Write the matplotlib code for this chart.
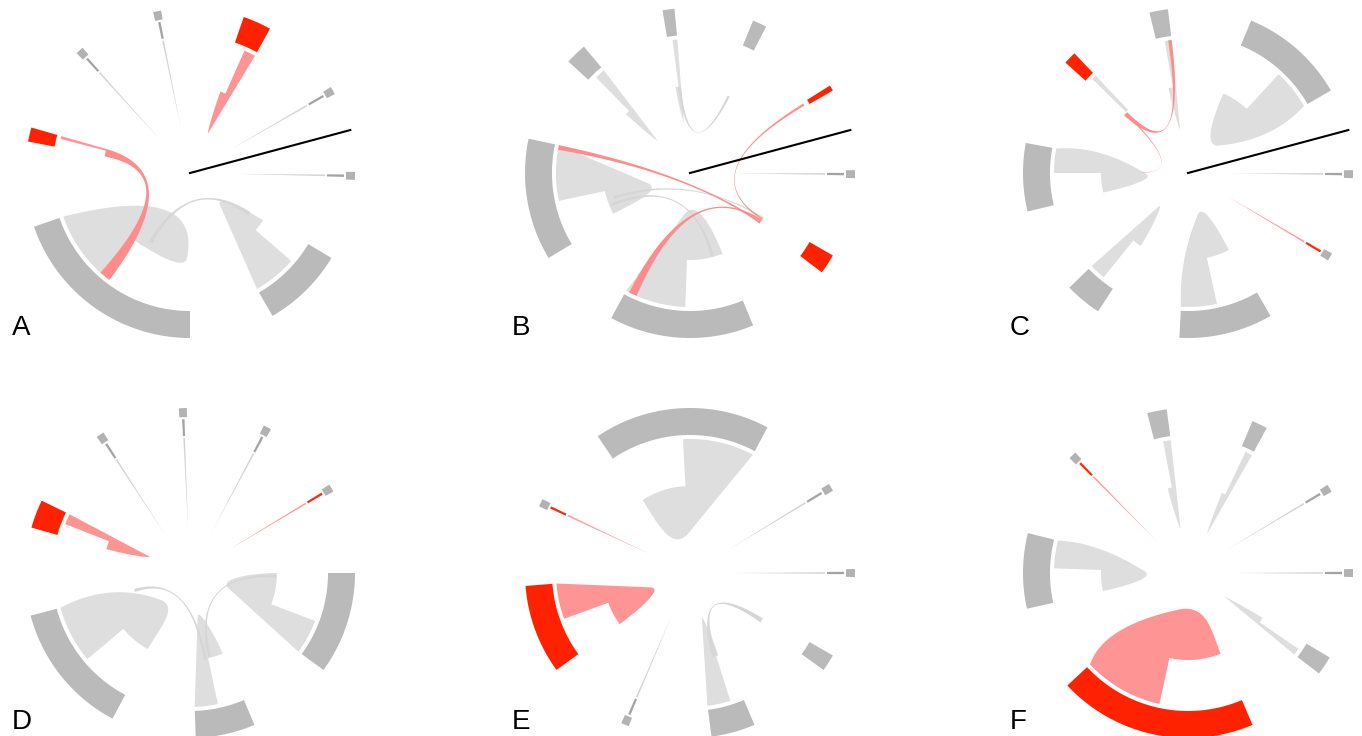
import numpy as np
import matplotlib
matplotlib.use("Agg")
import matplotlib.pyplot as plt
from matplotlib.patches import Polygon

BAND_GREY, FILL_GREY = "#bababa", "#dedede"
BAND_RED, FILL_PINK = "#ff2200", "#ff9494"
SPOKE_SQ, SPOKE_DARK, SPOKE_LIGHT = "#b2b2b2", "#a4a4a4", "#d4d4d4"
SPOKE_RED, SPOKE_PINK = "#ff2a12", "#ff9a9a"
CHORD_RED, CHORD_GREY = "#ff8c8c", "#d6d6d6"

# nodes: (band start, band end, strip end, taper end, tip angle, tip radius, back-edge bend, kind)
# angles in degrees, counter-clockwise from 3 o'clock
A_NODES = [
    (199, 270, 228, 236, 268, 85, (-36, 15), "g"),
    (-60, -31, -41, -33, -47, 44, None, "g"),
    (61, 71, 66, 69.5, 65.5, 44, None, "r"),
    (164, 169, 165.2, None, None, None, None, "r"),
]
B_NODES = [
    (168, 211, 192, 208, 193, 44, None, "g"),
    (241.5, 292.5, 268, 292, 262, 42, None, "g"),
    (130, 137.5, 134.5, 137.5, 135, 46, None, "g"),
    (95.4, 99.6, 97.5, 99.6, 97, 50, None, "g"),
    (62.5, 67.5, None, None, None, None, None, "g"),
    (30, 32, None, None, None, None, None, "r"),
    (-37, -30, None, None, None, None, None, "r"),
]
C_NODES = [
    (30, 67.5, 47.5, 66, 42, 41, (21, 90), "g"),
    (169.5, 193.5, 180, 193, 181, 42, (162.5, 93), "g"),
    (97, 103.5, 100, 103, 100.5, 44, None, "g"),
    (133.5, 138, 135.5, None, None, None, None, "rg"),
    (224, 237, 231, 237, 229, 44, None, "g"),
    (267, 300, 282.5, 298, 283, 43, (264, 88), "g"),
]
D_NODES = [
    (195, 242, 220, 241, 222, 40, (186, 80), "g"),
    (-36, 0, -21, 0, -22, 42, None, "g"),
    (272, 293, 282, 292, 280, 44, None, "g"),
    (154, 164, 158.6, 164, 158, 44, None, "r"),
]
E_NODES = [
    (62, 124, 93, 123, 92, 40, None, "g"),
    (184.5, 216, 200, 216, 200, 42, None, "r"),
    (277.5, 293, 287.5, 289, 284.6, 47, None, "g"),
    (-36, -30, None, None, None, None, None, "g"),
]
F_NODES = [
    (223, 293, 257.7, 292, 255, 38, (212, 100), "r"),
    (166, 192.5, 178, 192, 178, 43, (161, 95), "g"),
    (97.4, 104.3, 100.7, 103.5, 99.5, 45, None, "g"),
    (61.5, 67, 64.6, 67, 64, 44, None, "g"),
    (-37.5, -30.8, -34.5, -31, -33, 44, None, "g"),
]

# small nodes drawn as a square on a thin spoke: (angle, kind)
A_SPOKES = [(132, "g"), (101.5, "g"), (30, "g"), (-1, "g")]
B_SPOKES = [(-0.4, "g")]
C_SPOKES = [(-0.4, "g"), (-30.6, "r")]
D_SPOKES = [(123, "g"), (92.5, "g"), (62, "g"), (31, "r")]
E_SPOKES = [(154.8, "r"), (31.3, "g"), (0, "g"), (246.8, "g")]
F_SPOKES = [(134.5, "r"), (30.9, "g"), (0, "g")]

# chords: (from a0, a1, radius, to b0, b1, radius, kind)
A_CHORDS = [(164, 169, 87, 228, 233, 134, "r"), (239, 242, 80, -36, -33, 72, "g")]
B_CHORDS = [
    (168, 170, 134, -36, -34.5, 86, "r"),
    (243, 246.5, 134, -34.5, -33, 86, "r"),
    (30.5, 31.5, 133, -33, -32, 86, "r"),
    (197, 199, 80, -32, -31, 86, "g"),
    (201, 203, 85, 284, 286, 86, "g"),
    (96, 98, 87, 62.5, 64, 86, "g"),
]
C_CHORDS = [(97, 98.5, 134, 135, 138, 86, "r"), (136, 137, 86, 179, 179.5, 46, "r")]
D_CHORDS = [(196, 199, 58, 279, 281, 88, "g"), (-3, -1, 86, 282, 284, 86, "g")]
E_CHORDS = [(285, 288, 87, -35, -32, 86, "g")]
F_CHORDS = []

LABELS = ["A", "B", "C", "D", "E", "F"]
REF_ANGLE = 15  # black reference line in the top row

R_B0, R_B1, R_IN, R_S = 138, 165, 134, 87


def P(c, ang, r):
    t = np.radians(ang)
    return np.array([c[0] + r * np.cos(t), c[1] - r * np.sin(t)])


def arc(c, a0, a1, r, n=60):
    t = np.radians(np.linspace(a0, a1, n))
    return np.column_stack([c[0] + r * np.cos(t), c[1] - r * np.sin(t)])


def qbez(p0, p1, p2, n=60):
    t = np.linspace(0, 1, n)[:, None]
    return (1 - t) ** 2 * p0 + 2 * (1 - t) * t * p1 + t ** 2 * p2


def cbez(p0, p1, p2, p3, n=60):
    t = np.linspace(0, 1, n)[:, None]
    return ((1 - t) ** 3 * p0 + 3 * (1 - t) ** 2 * t * p1
            + 3 * (1 - t) * t ** 2 * p2 + t ** 3 * p3)


def unit(v):
    return v / np.linalg.norm(v)


def poly(ax, pts, col, z):
    ax.add_patch(Polygon(pts, closed=True, fc=col, ec="none", zorder=z))


def sector(ax, c, a0, a1, r0, r1, col, z=2):
    poly(ax, np.vstack([arc(c, a0, a1, r1), arc(c, a1, a0, r0)]), col, z)


def node(ax, c, nd):
    a0, a1, s1, t1, ta, tr, bend, kind = nd
    band = BAND_RED if kind in ("r", "rg") else BAND_GREY
    fill = FILL_PINK if kind == "r" else FILL_GREY
    sector(ax, c, a0, a1, R_B0, R_B1, band)
    if t1 is None:
        if s1 is not None:
            sector(ax, c, a0, s1, R_S, R_IN, fill)
        return
    tip, start = P(c, ta, tr), P(c, a0, R_IN)
    if bend is None:
        back = np.vstack([tip, start])
        u = unit(start - tip)
    else:
        ctl = P(c, *bend)
        back = qbez(tip, ctl, start)
        u = unit(ctl - tip)
    p3 = P(c, t1, R_S)
    L = 0.3 * np.linalg.norm(P(c, a0, R_S) - p3)
    edge = cbez(p3, P(c, t1, (R_S + tr) / 2), tip - L * u, tip)
    pts = np.vstack([arc(c, a0, s1, R_IN), arc(c, s1, t1, R_S), edge, back])
    poly(ax, pts, fill, 2)


def spoke(ax, c, ang, kind):
    dark = SPOKE_RED if kind == "r" else SPOKE_DARK
    light = SPOKE_PINK if kind == "r" else SPOKE_LIGHT
    sector(ax, c, ang - 1.4, ang + 1.4, 156, 165, SPOKE_SQ)
    sector(ax, c, ang - 0.45, ang + 0.45, 137, 154, dark)
    poly(ax, [P(c, ang - 0.35, 135), P(c, ang + 0.35, 135), P(c, ang, 45)], light, 2)


def chord(ax, c, ch):
    a0, a1, ra, b0, b1, rb, kind = ch
    ctr = np.array(c, dtype=float)
    pts = np.vstack([arc(c, a0, a1, ra, 20), qbez(P(c, a1, ra), ctr, P(c, b0, rb)),
                     arc(c, b0, b1, rb, 20), qbez(P(c, b1, rb), ctr, P(c, a0, ra))])
    poly(ax, pts, CHORD_RED if kind == "r" else CHORD_GREY, 4 if kind == "r" else 3)


fig = plt.figure(figsize=(13.62, 7.36), dpi=100)
ax = fig.add_axes([0, 0, 1, 1])
ax.set_xlim(0, 1362)
ax.set_ylim(736, 0)
ax.axis("off")

panels = [(A_NODES, A_SPOKES, A_CHORDS), (B_NODES, B_SPOKES, B_CHORDS),
          (C_NODES, C_SPOKES, C_CHORDS), (D_NODES, D_SPOKES, D_CHORDS),
          (E_NODES, E_SPOKES, E_CHORDS), (F_NODES, F_SPOKES, F_CHORDS)]
for i, (nodes, spokes, chords) in enumerate(panels):
    c = ([190, 690, 1188][i % 3], [173, 573][i // 3])
    for nd in nodes:
        node(ax, c, nd)
    for ang, kind in spokes:
        spoke(ax, c, ang, kind)
    for ch in chords:
        chord(ax, c, ch)
    if i < 3:
        end = P(c, REF_ANGLE, 166)
        ax.plot([c[0], end[0]], [c[1], end[1]], color="black", lw=1.5, zorder=5)
    ax.text(c[0] - 178, c[1] + (162 if i < 3 else 156), LABELS[i], fontsize=20,
            family="Liberation Sans", ha="left", va="baseline")

fig.savefig("out.png", dpi=100)
